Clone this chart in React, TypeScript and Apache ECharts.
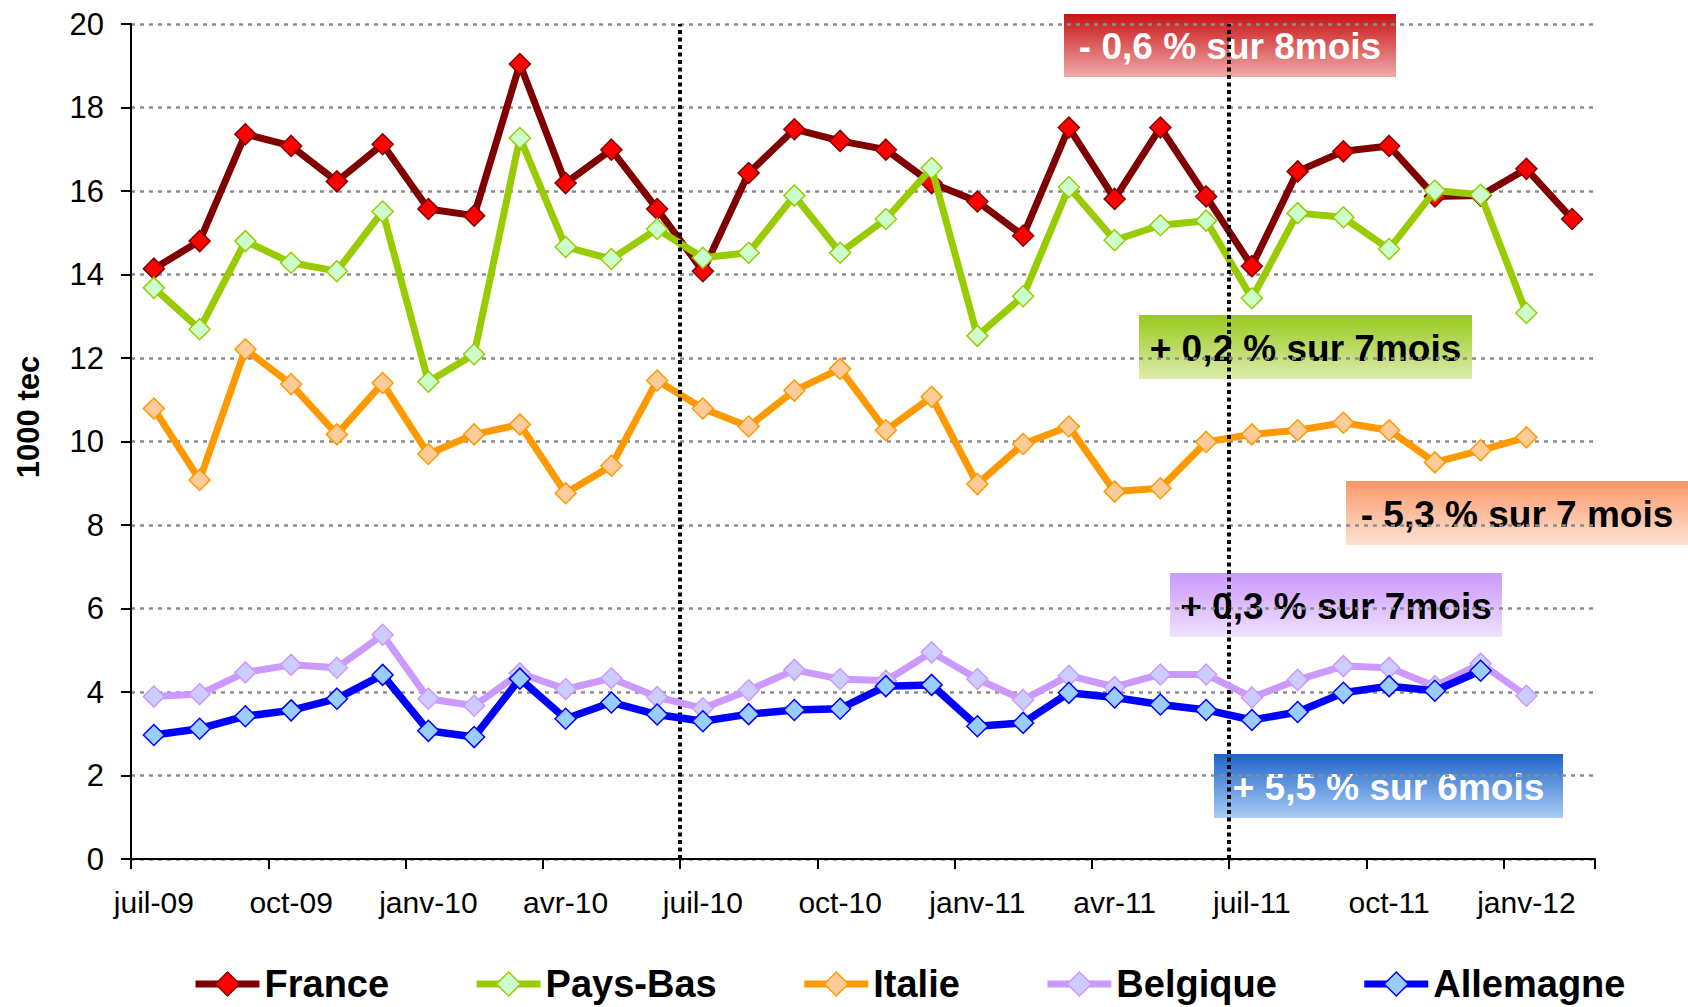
import React, { useEffect, useRef } from "react";
import * as echarts from "echarts";

const months = [
  "juil-09", "août-09", "sept-09", "oct-09", "nov-09", "déc-09",
  "janv-10", "févr-10", "mars-10", "avr-10", "mai-10", "juin-10",
  "juil-10", "août-10", "sept-10", "oct-10", "nov-10", "déc-10",
  "janv-11", "févr-11", "mars-11", "avr-11", "mai-11", "juin-11",
  "juil-11", "août-11", "sept-11", "oct-11", "nov-11", "déc-11",
  "janv-12", "févr-12",
];

const france = [
  14.14, 14.8, 17.36, 17.08, 16.23, 17.12, 15.57, 15.41, 19.04, 16.19, 16.99, 15.57,
  14.08, 16.43, 17.48, 17.2, 16.99, 16.19, 15.75, 14.93, 17.52, 15.81, 17.52, 15.87,
  14.2, 16.47, 16.95, 17.08, 15.87, 15.89, 16.53, 15.33,
];
const paysBas = [
  13.68, 12.69, 14.8, 14.28, 14.08, 15.51, 11.43, 12.09, 17.27, 14.66, 14.37, 15.09,
  14.4, 14.52, 15.89, 14.52, 15.33, 16.55, 12.53, 13.48, 16.09, 14.82, 15.18, 15.29,
  13.43, 15.47, 15.37, 14.61, 16.01, 15.91, 13.08, null,
];
const italie = [
  10.79, 9.08, 12.21, 11.37, 10.17, 11.4, 9.7, 10.17, 10.41, 8.76, 9.42, 11.46,
  10.79, 10.36, 11.22, 11.74, 10.27, 11.07, 8.98, 9.94, 10.36, 8.8, 8.88, 9.99,
  10.17, 10.27, 10.45, 10.27, 9.5, 9.79, 10.1, null,
];
const belgique = [
  3.89, 3.95, 4.47, 4.65, 4.58, 5.37, 3.84, 3.67, 4.45, 4.07, 4.33, 3.88,
  3.61, 4.04, 4.53, 4.31, 4.27, 4.95, 4.31, 3.81, 4.39, 4.12, 4.42, 4.42,
  3.87, 4.29, 4.62, 4.58, 4.14, 4.68, 3.91, null,
];
const allemagne = [
  2.97, 3.12, 3.42, 3.56, 3.84, 4.41, 3.07, 2.92, 4.32, 3.36, 3.75, 3.46,
  3.3, 3.47, 3.57, 3.6, 4.14, 4.17, 3.18, 3.26, 3.98, 3.87, 3.7, 3.57,
  3.33, 3.52, 3.98, 4.14, 4.03, 4.51, null, null,
];

const seriesNames = ["France", "Pays-Bas", "Italie", "Belgique", "Allemagne"];
const seriesData = [france, paysBas, italie, belgique, allemagne];

// month boundaries (index of first month of the period) marked by dotted lines
const dividers = [12, 24];

const yAxisTitle = "1000 tec";

const annotationTexts = [
  "- 0,6 % sur 8mois",
  "+ 0,2 % sur 7mois",
  "- 5,3 % sur 7 mois",
  "+ 0,3 % sur 7mois",
  "+ 5,5 % sur 6mois",
];

// styles
const lineColors = ["#800000", "#99cc00", "#ff9900", "#cc99ff", "#0000ff"];
const fillColors = ["#ff0000", "#ccffcc", "#ffcc99", "#ccccff", "#99ccff"];
const borderColors = ["#800000", "#99cc00", "#ff9900", "#cc99ff", "#0000ff"];
const lineWidths = [7, 7, 7, 7, 7.5];

const annotationBoxes = [
  { x: 1064, y: 14, w: 332, h: 63, top: "#c81212", bottom: "#f0abab", text: "#ffffff" },
  { x: 1139, y: 315, w: 333, h: 64, top: "#98ca1c", bottom: "#dcecac", text: "#000000" },
  { x: 1346, y: 481, w: 342, h: 64, top: "#fb9868", bottom: "#fde2d4", text: "#000000" },
  { x: 1170, y: 573, w: 332, h: 64, top: "#cc98fc", bottom: "#efe2ff", text: "#000000" },
  { x: 1214, y: 754, w: 349, h: 64, top: "#1c64cc", bottom: "#aacdf2", text: "#ffffff" },
];

const FONT = "'Liberation Sans', Arial, Helvetica, sans-serif";

export default function App() {
  const ref = useRef<HTMLDivElement>(null);

  useEffect(() => {
    if (!ref.current) return;
    const chart = echarts.init(ref.current, null, { renderer: "svg" });

    const series: any[] = [
      {
        type: "line",
        xAxisIndex: 1,
        yAxisIndex: 0,
        data: [],
        silent: true,
        z: 1,
        markLine: {
          silent: true,
          symbol: "none",
          label: { show: false },
          lineStyle: { color: "#000000", width: 4, type: [4, 3.5] },
          data: dividers.map((d) => ({ xAxis: d })),
        },
      },
    ];
    seriesNames.forEach((name, i) => {
      series.push({
        name,
        type: "line",
        data: seriesData[i],
        symbol: "diamond",
        symbolSize: 21,
        showAllSymbol: true,
        z: 2 + i,
        lineStyle: { color: lineColors[i], width: lineWidths[i] },
        itemStyle: { color: fillColors[i], borderColor: borderColors[i], borderWidth: 1.5 },
        emphasis: { disabled: true },
      });
    });

    const graphics: any[] = annotationBoxes.map((b, i) => ({
      type: "group",
      x: b.x,
      y: b.y,
      z: 100,
      children: [
        {
          type: "rect",
          shape: { x: 0, y: 0, width: b.w, height: b.h },
          style: {
            fill: new echarts.graphic.LinearGradient(0, 0, 0, 1, [
              { offset: 0, color: b.top },
              { offset: 1, color: b.bottom },
            ]),
          },
        },
        {
          type: "text",
          x: b.w / 2,
          y: b.h / 2 + 1,
          style: {
            text: annotationTexts[i],
            fill: b.text,
            fontSize: 37,
            fontWeight: "bold",
            fontFamily: FONT,
            align: "center",
            verticalAlign: "middle",
          },
        },
      ],
    }));
    graphics.push({
      type: "text",
      x: 28,
      y: 417,
      rotation: Math.PI / 2,
      style: {
        text: yAxisTitle,
        fill: "#000000",
        fontSize: 31,
        fontWeight: "bold",
        fontFamily: FONT,
        align: "center",
        verticalAlign: "middle",
      },
    });

    chart.setOption({
      animation: false,
      backgroundColor: "#ffffff",
      textStyle: { fontFamily: FONT },
      grid: { left: 131, right: 93, top: 24, bottom: 148, containLabel: false },
      legend: {
        data: seriesNames,
        left: 187,
        top: 960,
        itemGap: 84,
        itemWidth: 64,
        itemHeight: 30,
        lineStyle: { width: 7 },
        itemStyle: { borderWidth: 1.5 },
        textStyle: { fontSize: 38, fontWeight: "bold", color: "#000000", fontFamily: FONT },
      },
      xAxis: [
        {
          type: "category",
          data: months,
          boundaryGap: true,
          axisLine: { show: true, lineStyle: { color: "#000000", width: 2 } },
          axisTick: { show: true, interval: 2, length: 10, lineStyle: { color: "#000000", width: 2 } },
          axisLabel: { interval: 2, fontSize: 30, color: "#000000", margin: 28, fontFamily: FONT },
          splitLine: { show: false },
        },
        {
          type: "value",
          min: 0,
          max: 32,
          show: false,
          splitLine: { show: false },
        },
      ],
      yAxis: {
        type: "value",
        min: 0,
        max: 20,
        interval: 2,
        axisLine: { show: true, lineStyle: { color: "#000000", width: 2 } },
        axisTick: { show: true, length: 10, lineStyle: { color: "#000000", width: 2 } },
        axisLabel: { fontSize: 31, color: "#000000", margin: 27, fontFamily: FONT },
        splitLine: { show: true, lineStyle: { color: "#8c8c8c", width: 2.5, type: [4, 5] } },
      },
      series,
      graphic: graphics,
    });

    return () => chart.dispose();
  }, []);

  return (
    <div
      ref={ref}
      style={{ position: "absolute", left: 0, top: 0, width: 1688, height: 1007 }}
    />
  );
}
